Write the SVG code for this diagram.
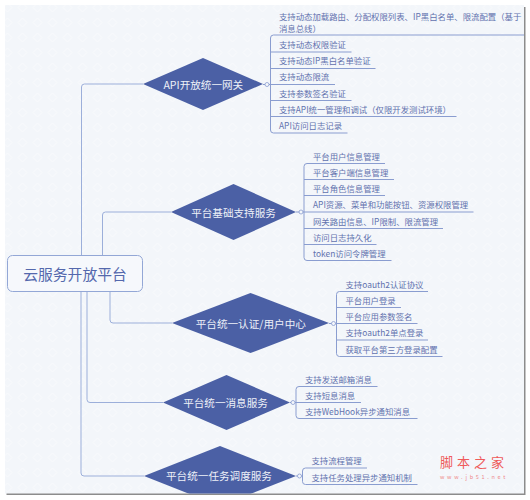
<svg xmlns="http://www.w3.org/2000/svg" width="530" height="500" viewBox="0 0 530 500">
<style>
text{font-family:"Noto Sans CJK SC","Liberation Sans",sans-serif}
.t{font-size:8.4px;fill:#6272ae}
.d{fill:#4b60a5}
.w{font-size:10.600px;fill:#eef1f8;text-anchor:middle}
.c{fill:none;stroke:#9cafda;stroke-width:1}
.l{fill:none;stroke:#8a9dd0;stroke-width:1}
.o{fill:#f4f7fb;stroke:#8a9dd0;stroke-width:.8}
</style>
<defs>
<pattern id="bg" width="15" height="15" patternUnits="userSpaceOnUse">
<rect width="15" height="15" fill="#f3f6fa"/>
<path d="M7.500 3L12 7.500L7.500 12L3 7.500Z" fill="none" stroke="#f9fbfd" stroke-width="1"/>
</pattern>
<clipPath id="panel"><rect x="5" y="5" width="519" height="488.500"/></clipPath>
</defs>
<rect width="530" height="500" fill="#ffffff"/>
<rect x="6.500" y="7" width="519" height="488" fill="#8c8c8c"/>
<rect x="5" y="5" width="519" height="488.500" fill="url(#bg)"/>
<g id="connectors">
<path class="c" d="M81.500 255V87Q81.500 84 84.500 84H143"/>
<path class="c" d="M102.500 255V215Q102.500 212 105.500 212H171"/>
<path class="c" d="M110 291V320Q110 323 113 323H172"/>
<path class="c" d="M87 291V399.500Q87 402.500 90 402.500H163"/>
<path class="c" d="M81 291V473Q81 476 84 476H144"/>
</g>
<g id="root">
<rect x="7.500" y="255.500" width="135" height="36" rx="5" fill="#f6f8fc" stroke="#93a7d6"/>
<text x="75" y="279.500" font-size="14.800" fill="#5468ad" text-anchor="middle">云服务开放平台</text>
</g>
<g id="n1">
<path class="d" d="M143 84L203 58L263 84L203 110Z"/>
<text class="w" x="203.300" y="88.500">API开放统一网关</text>
<path class="l" d="M263 84.500H271M524 35H273.500Q270.500 35 270.500 38V130Q270.500 133 273.500 133H347.500M270.500 52H351.500M270.500 68.500H375.500M270.500 84.500H335M270.500 100.500H351.500M270.500 116.500H456.500"/>
<circle class="o" cx="267" cy="84.500" r="2"/>
<text class="t" x="279" y="20">支持动态加载路由、分配权限列表、IP黑白名单、限流配置（基于</text>
<text class="t" x="279" y="31.500">消息总线）</text>
<text class="t" x="279" y="48">支持动态权限验证</text>
<text class="t" x="279" y="64">支持动态IP黑白名单验证</text>
<text class="t" x="279" y="80">支持动态限流</text>
<text class="t" x="279" y="96.500">支持参数签名验证</text>
<text class="t" x="279" y="112.500">支持API统一管理和调试（仅限开发测试环境）</text>
<text class="t" x="279" y="129">API访问日志记录</text>
</g>
<g id="n2">
<path class="d" d="M171 212L233.500 184L296 212L233.500 240Z"/>
<text class="w" x="233.500" y="216.500">平台基础支持服务</text>
<path class="l" d="M296 212H304M385 163.500H307Q304 163.500 304 166.500V257.500Q304 260.500 307 260.500H391.500M304 179.500H394M304 195.500H385M304 212H473.500M304 228.500H443M304 244.500H376.500"/>
<circle class="o" cx="301" cy="212" r="2"/>
<text class="t" x="313" y="159.500">平台用户信息管理</text>
<text class="t" x="313" y="175.500">平台客户端信息管理</text>
<text class="t" x="313" y="192">平台角色信息管理</text>
<text class="t" x="313" y="208">API资源、菜单和功能按钮、资源权限管理</text>
<text class="t" x="313" y="224.500">网关路由信息、IP限制、限流管理</text>
<text class="t" x="313" y="240.500">访问日志持久化</text>
<text class="t" x="313" y="257">token访问令牌管理</text>
</g>
<g id="n3">
<path class="d" d="M172 323L250.500 293L329 323L250.500 353Z"/>
<text class="w" x="250.800" y="328">平台统一认证/用户中心</text>
<path class="l" d="M329 323.500H337M428 291.500H339.500Q336.500 291.500 336.500 294.500V353.500Q336.500 356.500 339.500 356.500H442.500M336.500 307.500H401M336.500 323.500H417.500M336.500 340H428"/>
<circle class="o" cx="333.500" cy="323.500" r="2"/>
<text class="t" x="345.500" y="287.500">支持oauth2认证协议</text>
<text class="t" x="345.500" y="303.500">平台用户登录</text>
<text class="t" x="345.500" y="320">平台应用参数签名</text>
<text class="t" x="345.500" y="336">支持oauth2单点登录</text>
<text class="t" x="345.500" y="352.500">获取平台第三方登录配置</text>
</g>
<g id="n4">
<path class="d" d="M163 402.500L226.500 375L290 402.500L226.500 430Z"/>
<text class="w" x="225.500" y="407">平台统一消息服务</text>
<path class="l" d="M290 402.500H296M377.500 386.500H299Q296 386.500 296 389.500V415.500Q296 418.500 299 418.500H417.500M296 402.500H361"/>
<circle class="o" cx="293" cy="402.500" r="2"/>
<text class="t" x="305" y="382.500">支持发送邮箱消息</text>
<text class="t" x="305" y="399">支持短息消息</text>
<text class="t" x="305" y="415">支持WebHook异步通知消息</text>
</g>
<g id="n5">
<path class="d" clip-path="url(#panel)" d="M144 476L220 446L296 476L220 506Z"/>
<text class="w" x="219" y="480">平台统一任务调度服务</text>
<path class="l" d="M296 476H303M367 468H305.500Q302.500 468 302.500 471V481.500Q302.500 484.500 305.500 484.500H417.500"/>
<circle class="o" cx="299.500" cy="476" r="2"/>
<text class="t" x="311.500" y="464">支持流程管理</text>
<text class="t" x="311.500" y="480.500">支持任务处理异步通知机制</text>
</g>
<g id="watermark">
<text x="440" y="467" font-size="13" letter-spacing="4" fill="#ef5a5a">脚本之家</text>
<text x="440" y="479" font-size="5.500" letter-spacing="2.700" fill="#ef8a8a" font-family="Liberation Sans">www.jb51.net</text>
</g>
</svg>
